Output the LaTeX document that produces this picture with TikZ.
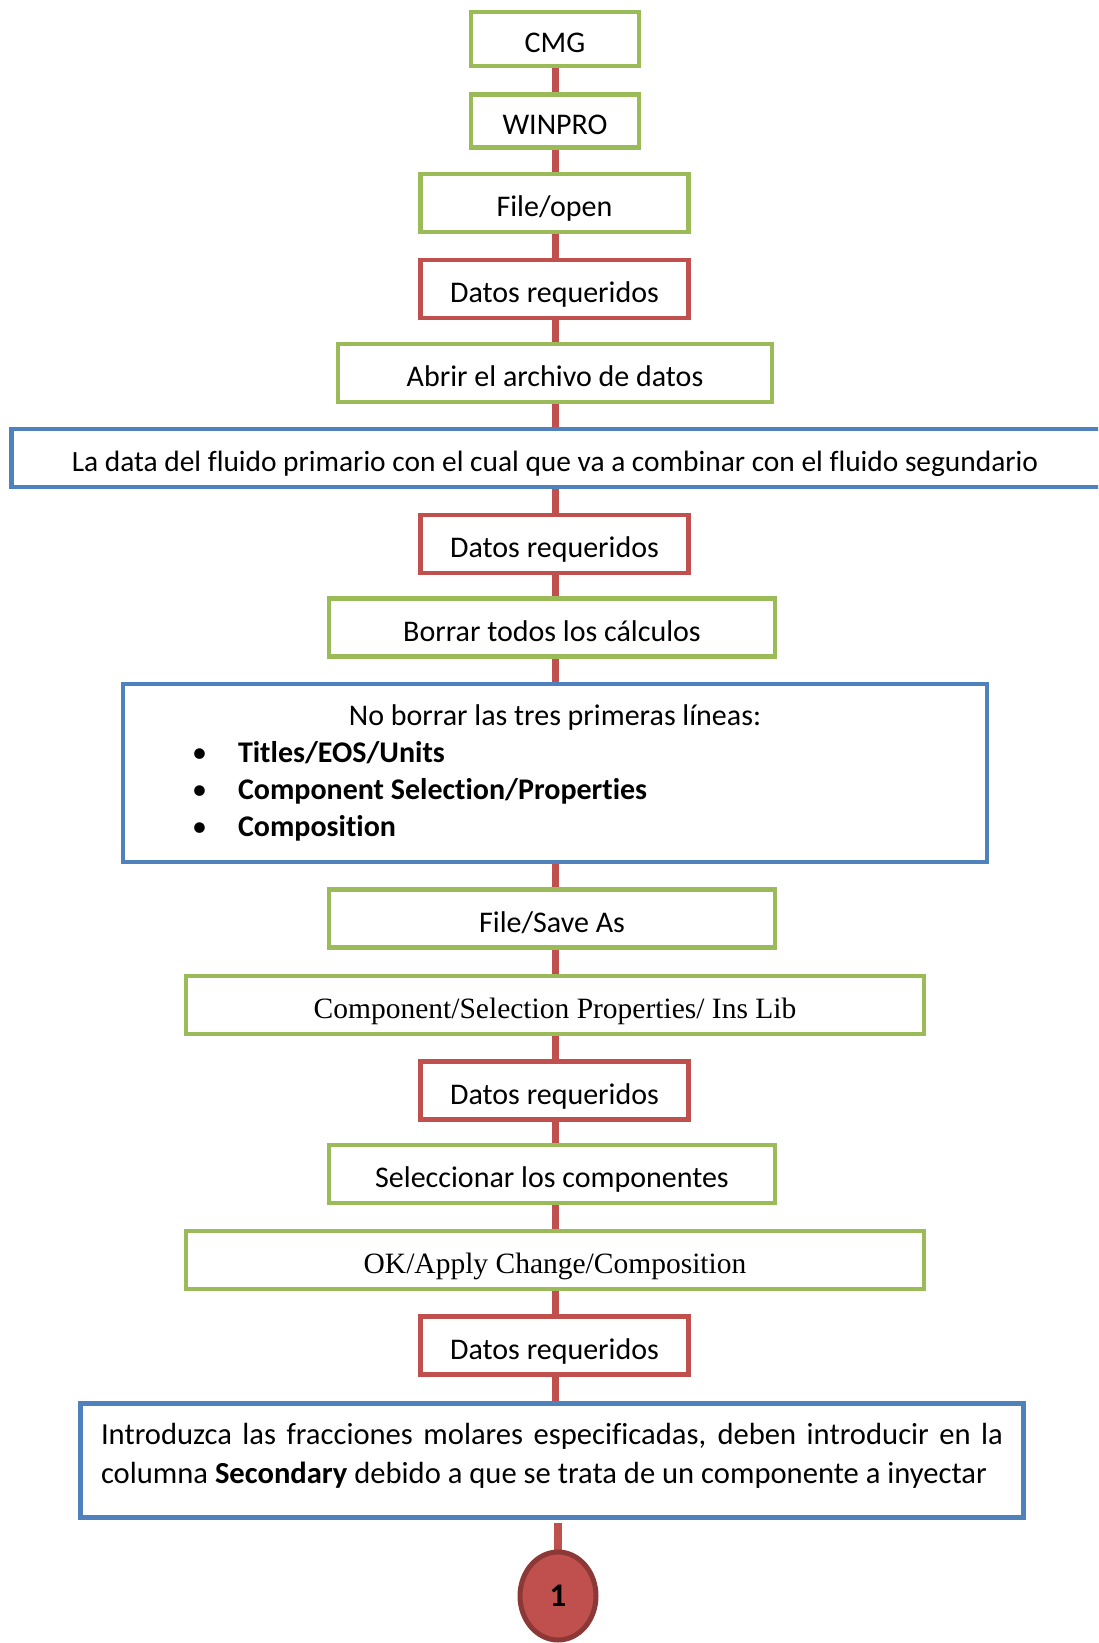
\documentclass[tikz,border=0pt]{standalone}
\usepackage{fontspec}
\setmainfont{Carlito}[Ligatures=NoCommon]
\newfontfamily\serifbox{Liberation Serif}
\usetikzlibrary{shapes.geometric,backgrounds}

\definecolor{boxgreen}{RGB}{155,187,89}
\definecolor{boxred}{RGB}{192,80,77}
\definecolor{boxblue}{RGB}{79,129,189}
\definecolor{dotred}{RGB}{140,56,54}

\begin{document}
\begin{tikzpicture}[x=1pt, y=-1pt, font=\fontsize{30}{36}\selectfont,
  flowbox/.style={draw, fill=white, line width=4.5pt, inner sep=0pt, text height=33pt, text depth=6pt},
  gbox/.style={flowbox, draw=boxgreen},
  rbox/.style={flowbox, draw=boxred, minimum width=268pt, minimum height=58pt},
  bbox/.style={flowbox, draw=boxblue},
  serifline/.style={font=\serifbox\fontsize{29.5}{34}\selectfont},
  link/.style={draw=boxred, line width=7.5pt}]
\useasboundingbox (0,0) rectangle (1098,1643);
\clip (0,0) rectangle (1098,1643);
\coordinate (trunk) at (555.5,0);
% ---- steps, top to bottom
\node[gbox, minimum width=168pt, minimum height=54pt] (cmg) at (555,39) {CMG};
\node[gbox, minimum width=168pt, minimum height=53pt] (winpro) at (555,121) {WINPRO};
\node[gbox, minimum width=268pt, minimum height=58pt] (fileopen) at (554.5,203) {File/open};
\node[rbox] (datos1) at (554.5,289) {Datos requeridos};
\node[gbox, minimum width=434pt, minimum height=58pt] (abrir) at (555,373) {Abrir el archivo de datos};
\node[bbox, minimum width=1097pt, minimum height=58pt, font=\fontsize{29.4}{36}\selectfont] (data) at (560,458)
  {\hspace*{-10pt}La data del fluido primario con el cual que va a combinar con el fluido segundario};
\node[rbox] (datos2) at (554.5,544) {Datos requeridos};
\node[gbox, minimum width=446pt, minimum height=58pt] (borrar) at (552,627.5) {Borrar todos los cálculos};
\node[bbox, minimum width=864pt, minimum height=178pt, text height=, text depth=,
  font=\fontsize{30}{37}\selectfont] (noborrar) at (555,773)
  {\parbox{864pt}{\setlength{\parindent}{0pt}%
   \centerline{No borrar las tres primeras líneas:}
   \hspace*{69pt}\makebox[46pt][l]{\textbullet}\textbf{Titles/EOS/Units}\par
   \hspace*{69pt}\makebox[46pt][l]{\textbullet}\textbf{Component Selection/Properties}\par
   \hspace*{69pt}\makebox[46pt][l]{\textbullet}\textbf{Composition}}};
\node[gbox, minimum width=446pt, minimum height=58pt] (saveas) at (552,918.5) {File/Save As};
\node[gbox, serifline, minimum width=738pt, minimum height=58pt] (compsel) at (555,1005)
  {Component/Selection Properties/ Ins Lib};
\node[rbox] (datos3) at (554.5,1090.5) {Datos requeridos};
\node[gbox, minimum width=446pt, minimum height=58pt] (selec) at (552,1174) {Seleccionar los componentes};
\node[gbox, serifline, minimum width=738pt, minimum height=58pt] (okapply) at (555,1260)
  {OK/Apply Change/Composition};
\node[rbox] (datos4) at (554.5,1345.5) {Datos requeridos};
\node[bbox, minimum width=943pt, minimum height=114pt, text height=, text depth=,
  font=\fontsize{30.6}{39}\selectfont] (intro) at (552,1460.5)
  {\parbox{902pt}{\setlength{\parindent}{0pt}Introduzca las fracciones molares especificadas, deben introducir en la
   columna \textbf{Secondary} debido a que se trata de un componente a inyectar\par\vspace*{10pt}}};
% ---- off-page connector
\node[ellipse, draw=dotred, fill=boxred, line width=5pt, minimum width=76pt, minimum height=88pt, inner sep=0pt,
  font=\fontsize{33}{36}\selectfont] (circ) at (558,1596) {\textbf{1}};
% ---- trunk line behind the boxes
\begin{pgfonlayer}{background}
\foreach \a/\b in {cmg/winpro, winpro/fileopen, fileopen/datos1, datos1/abrir, abrir/data, data/datos2,
  datos2/borrar, borrar/noborrar, noborrar/saveas, saveas/compsel, compsel/datos3, datos3/selec,
  selec/okapply, okapply/datos4, datos4/intro}
  \draw[link] (trunk |- \a.south) -- (trunk |- \b.north);
\draw[link] (circ.north |- intro.south) ++(0,3) -- (circ.north);
\end{pgfonlayer}
\end{tikzpicture}
\end{document}
